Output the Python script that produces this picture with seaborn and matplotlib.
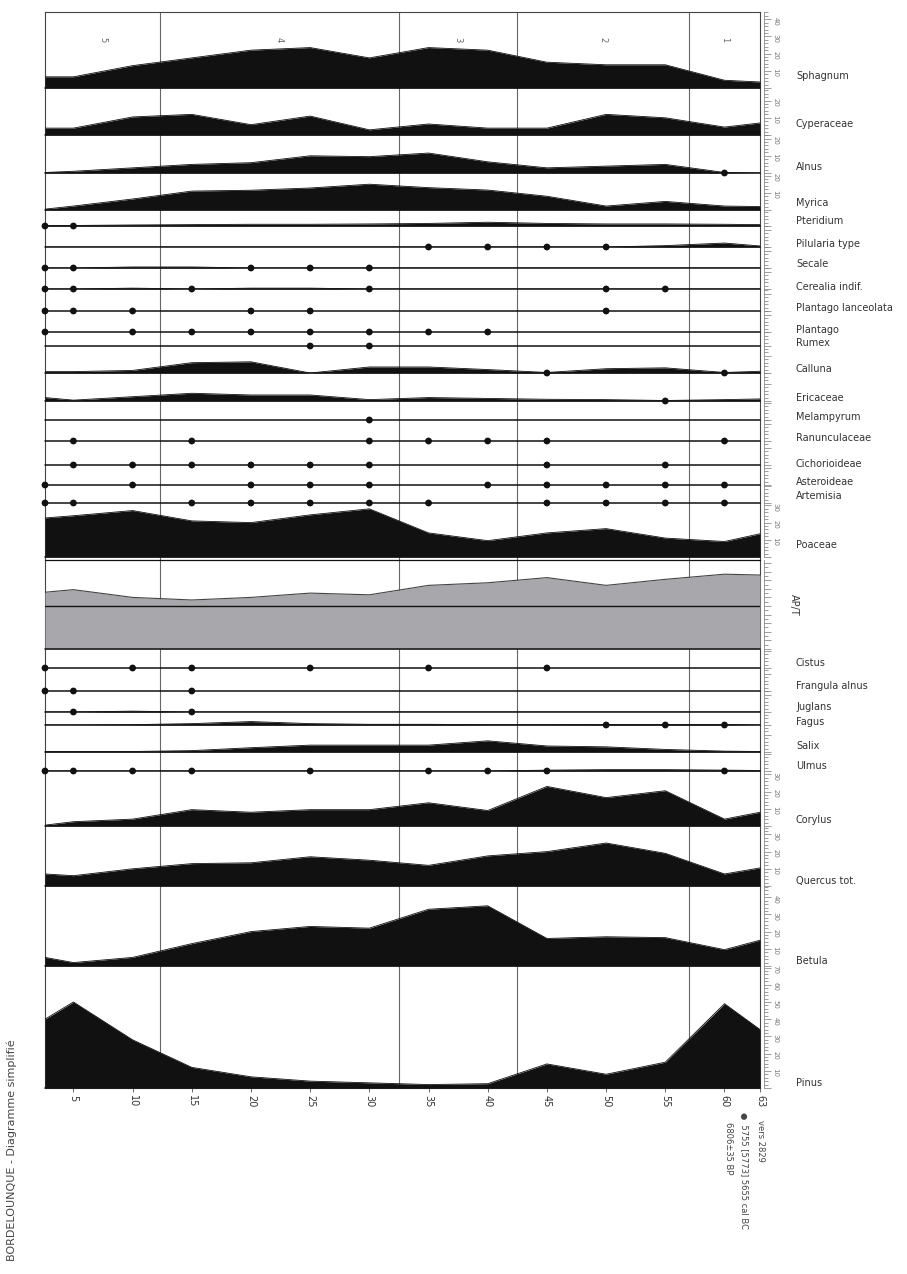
import matplotlib
matplotlib.use("Agg")
import matplotlib.pyplot as plt
from matplotlib.ticker import MultipleLocator, FuncFormatter
import seaborn as sns

sns.set_theme(style="ticks")
plt.rcParams["font.family"] = ["DejaVu Sans"]

# sample depths (cm) and axis ticks
depths = [2.6, 5, 10, 15, 20, 25, 30, 35, 40, 45, 50, 55, 60, 63]
depth_ticks = [5, 10, 15, 20, 25, 30, 35, 40, 45, 50, 55, 60, 63]
zone_bounds = [12.3, 32.5, 42.5, 57.0]
zone_names = ["5", "4", "3", "2", "1"]

# percentages per taxon
sphagnum = [6.5, 6.5, 13, 17.5, 22, 23.5, 17.5, 23.5, 22, 15, 13.5, 13.5, 4.5, 3.5]
cyperaceae = [4, 4, 10.5, 12, 6, 11, 3, 6.4, 4, 4, 12, 10, 4.6, 7]
alnus = [0.3, 1, 3, 5, 6, 10, 9.5, 11.6, 6.5, 3, 4, 5, 0.3, 0]
myrica = [0.5, 2.3, 6.4, 11, 11.5, 12.8, 15, 13, 11.6, 8, 2.3, 5, 2.3, 2]
pteridium = [0.3, 0.3, 0.6, 0.8, 1.0, 1.0, 1.2, 1.5, 2.2, 1.5, 1.2, 1.2, 1.0, 0.8]
pilularia = [0, 0, 0, 0, 0, 0, 0, 0, 0, 0, 0, 0.8, 2.3, 0.6]
secale = [0, 0, 0.6, 0.6, 0, 0, 0, 0, 0, 0, 0, 0, 0, 0]
cerealia = [0, 0, 0.5, 0, 0.5, 0.5, 0, 0, 0, 0, 0, 0, 0, 0]
calluna = [0.8, 0.8, 1.5, 6.0, 6.5, 0, 3.5, 3.5, 2.0, 0.3, 2.5, 3.0, 0.3, 1.0]
ericaceae = [2.0, 0.5, 2.5, 4.5, 3.5, 3.5, 0.8, 2.0, 1.5, 1.0, 0.8, 0.3, 0.8, 1.2]
poaceae = [22.7, 24, 27, 21, 20, 24.5, 28, 14, 9.5, 14, 16.5, 11, 9, 13.5]
ap_t = [66, 69, 60, 57, 60, 65, 63, 74, 77, 83, 74, 81, 87, 86]
juglans = [0, 0, 0.5, 0, 0, 0, 0, 0, 0, 0, 0, 0, 0, 0]
fagus = [0, 0, 0.2, 0.8, 2.0, 0.8, 0.4, 0.4, 0.2, 0.2, 0.3, 0.3, 0.3, 0]
salix = [0.3, 0.3, 0.3, 0.8, 2.5, 4.0, 4.0, 4.0, 6.5, 3.5, 3.0, 1.5, 0.5, 0.3]
ulmus = [0, 0, 0, 0, 0, 0, 0, 0, 0, 0.5, 0.8, 0.8, 0.5, 0.3]
corylus = [0.5, 2.5, 4, 9.5, 8, 9.5, 9.5, 13.5, 9, 23, 16.5, 20.5, 4, 8]
quercus = [7, 6, 10, 13, 13.5, 17, 15, 12, 17.5, 20, 25, 19, 7, 10.5]
betula = [5, 2, 5, 13, 20, 23, 22, 33, 35, 16, 17, 16.5, 9.5, 15]
pinus = [40, 50, 28, 12, 6.5, 4, 3, 2, 2.5, 14, 8, 15, 49, 34]

# isolated occurrences (dots), by depth
pteridium_dots = [2.6, 5]
pilularia_dots = [35, 40, 45, 50]
secale_dots = [2.6, 5, 20, 25, 30]
cerealia_dots = [2.6, 5, 15, 30, 50, 55]
plantago_lanc_dots = [2.6, 5, 10, 20, 25, 50]
plantago_dots = [2.6, 10, 15, 20, 25, 30, 35, 40]
rumex_dots = [25, 30]
alnus_dots = [60]
calluna_dots = [45, 60]
ericaceae_dots = [55]
melampyrum_dots = [30]
ranunculaceae_dots = [5, 15, 30, 35, 40, 45, 60]
cichorioideae_dots = [5, 10, 15, 20, 25, 30, 45, 55]
asteroideae_dots = [2.6, 10, 20, 25, 30, 40, 45, 50, 55, 60]
artemisia_dots = [2.6, 5, 15, 20, 25, 30, 35, 45, 50, 55, 60]
cistus_dots = [2.6, 10, 15, 25, 35, 45]
frangula_dots = [2.6, 5, 15]
juglans_dots = [5, 15]
fagus_dots = [50, 55, 60]
ulmus_dots = [2.6, 5, 10, 15, 25, 35, 40, 45, 60]

W, H = 907, 1274
L, R = 45, 760
XMIN, XMAX = 2.6, 63
S = 1.72          # px per percent
INK = "#111111"

fig = plt.figure(figsize=(W / 100, H / 100), dpi=100)


def px_axes(top, bottom):
    return fig.add_axes([L / W, 1 - bottom / H, (R - L) / W, (bottom - top) / H])


# frame, zones
bg = px_axes(12, 1088)
bg.set_xlim(XMIN, XMAX)
bg.set_ylim(0, 1)
bg.patch.set_alpha(0)
bg.set_xticks([])
bg.set_yticks([])
bg.spines["bottom"].set_visible(False)
for s in ["top", "left", "right"]:
    bg.spines[s].set_linewidth(0.8)
    bg.spines[s].set_color("#444")
for z in zone_bounds:
    bg.axvline(z, color="#666", lw=0.8)
edges = [XMIN] + zone_bounds + [XMAX]
for name, a, b in zip(zone_names, edges[:-1], edges[1:]):
    bg.text((a + b) / 2, 1 - 28 / 1076, name, rotation=-90, ha="center",
            va="center", fontsize=6, color="#666")

# label, top px, baseline px, values, dots, label offset px, scale labels
panels = [
    ("Sphagnum", 12, 88, sphagnum, [], 12, True),
    ("Cyperaceae", 88, 135, cyperaceae, [], 11, True),
    ("Alnus", 135, 173, alnus, alnus_dots, 6, True),
    ("Myrica", 173, 210, myrica, [], 7, True),
    ("Pteridium", 210, 226, pteridium, pteridium_dots, 5, False),
    ("Pilularia type", 226, 247, pilularia, pilularia_dots, 3, False),
    ("Secale", 247, 268, secale, secale_dots, 4, False),
    ("Cerealia indif.", 268, 289, cerealia, cerealia_dots, 2, False),
    ("Plantago lanceolata", 289, 311, None, plantago_lanc_dots, 3, False),
    ("Plantago", 311, 332, None, plantago_dots, 2, False),
    ("Rumex", 332, 346, None, rumex_dots, 3, False),
    ("Calluna", 346, 373, calluna, calluna_dots, 4, False),
    ("Ericaceae", 373, 401, ericaceae, ericaceae_dots, 3, False),
    ("Melampyrum", 401, 420, None, melampyrum_dots, 3, False),
    ("Ranunculaceae", 420, 441, None, ranunculaceae_dots, 3, False),
    ("Cichorioideae", 441, 465, None, cichorioideae_dots, 1, False),
    ("Asteroideae", 465, 485, None, asteroideae_dots, 3, False),
    ("Artemisia", 485, 503, None, artemisia_dots, 7, False),
    ("Poaceae", 503, 557, poaceae, [], 12, True),
    ("Cistus", 649, 668, None, cistus_dots, 5, False),
    ("Frangula alnus", 668, 691, None, frangula_dots, 5, False),
    ("Juglans", 691, 712, juglans, juglans_dots, 5, False),
    ("Fagus", 712, 725, fagus, fagus_dots, 3, False),
    ("Salix", 725, 752, salix, [], 6, False),
    ("Ulmus", 752, 771, ulmus, ulmus_dots, 5, False),
    ("Corylus", 771, 826, corylus, [], 6, True),
    ("Quercus tot.", 826, 886, quercus, [], 5, True),
    ("Betula", 886, 966, betula, [], 5, True),
    ("Pinus", 966, 1088, pinus, [], 5, True),
]


def style_ruler(ax, big, major=10, minor=2):
    for s in ["top", "left", "bottom"]:
        ax.spines[s].set_visible(False)
    ax.spines["right"].set_position(("outward", 3))
    ax.spines["right"].set_color("#888")
    ax.spines["right"].set_linewidth(0.6)
    ax.yaxis.tick_right()
    ax.yaxis.set_major_locator(MultipleLocator(major))
    ax.yaxis.set_minor_locator(MultipleLocator(minor))
    ax.yaxis.set_major_formatter(
        FuncFormatter(lambda v, p: "" if (v <= 0 or not big) else f"{v:.0f}"))
    ax.tick_params(axis="y", which="both", direction="out", width=0.5,
                   colors="#777", labelsize=5, labelrotation=-90, pad=1)
    ax.tick_params(axis="y", which="major", length=5)
    ax.tick_params(axis="y", which="minor", length=3)
    ax.set_xticks([])


axes = {}
for label, top, base, vals, dots, dy, big in panels:
    ax = px_axes(top, base)
    ax.set_xlim(XMIN, XMAX)
    ax.set_ylim(0, (base - top) / S)
    ax.patch.set_alpha(0)
    ax.axhline(0, color=INK, lw=1.1, clip_on=False, zorder=3)
    if vals is not None:
        ax.fill_between(depths, 0, vals, color=INK, lw=0)
        sns.lineplot(x=depths, y=vals, ax=ax, color=INK, linewidth=0.6,
                     legend=False)
    if dots:
        sns.scatterplot(x=dots, y=[0] * len(dots), ax=ax, color=INK, s=24,
                        edgecolor="none", clip_on=False, zorder=5, legend=False)
    ax.set_xlabel("")
    ax.set_ylabel("")
    style_ruler(ax, big)
    ax.annotate(label, xy=(1, 0), xycoords="axes fraction",
                xytext=(36, dy), textcoords="offset pixels",
                ha="left", va="center", fontsize=7, color="#333")
    axes[label] = ax

# AP/T panel
ax = px_axes(560, 649)
ax.set_xlim(XMIN, XMAX)
ax.set_ylim(0, 89 / 0.86)
ax.patch.set_alpha(0)
ax.fill_between(depths, 0, ap_t, color="#a8a8ac", lw=0)
sns.lineplot(x=depths, y=ap_t, ax=ax, color="#444", linewidth=0.8, legend=False)
ax.axhline(50, color=INK, lw=1.0)
ax.axhline(0, color=INK, lw=1.1, clip_on=False)
ax.axhline(89 / 0.86, color=INK, lw=0.9, clip_on=False)
ax.set_xlabel("")
ax.set_ylabel("")
style_ruler(ax, False, major=10, minor=5)
ax.annotate("AP/T", xy=(1, 0), xycoords="axes fraction", xytext=(34, 44),
            textcoords="offset pixels", ha="center", va="center",
            fontsize=7, color="#333", rotation=-90)

# depth axis
ax = axes["Pinus"]
ax.spines["bottom"].set_visible(True)
ax.spines["bottom"].set_color("#444")
ax.spines["bottom"].set_linewidth(0.8)
ax.set_xticks(depth_ticks)
ax.set_xticklabels([str(t) for t in depth_ticks], rotation=-90, fontsize=7,
                   color="#333")
ax.tick_params(axis="x", direction="out", length=3, width=0.6, colors="#555",
               labelcolor="#333", pad=2, bottom=True)

# annotations
fig.text(12 / W, 1 - 1150 / H, "BORDELOUNQUE - Diagramme simplifié",
         rotation=90, ha="center", va="center", fontsize=8, color="#444")
fig.text(729 / W, 1 - 1122 / H, "6806±35 BP", rotation=-90, ha="center",
         va="top", fontsize=6, color="#444")
fig.text(744 / W, 1 - 1112 / H, "●  5755 [5773] 5655 cal BC", rotation=-90,
         ha="center", va="top", fontsize=6, color="#444")
fig.text(760 / W, 1 - 1120 / H, "vers 2829", rotation=-90, ha="center",
         va="top", fontsize=6, color="#444")

fig.savefig("out.png", dpi=100)
